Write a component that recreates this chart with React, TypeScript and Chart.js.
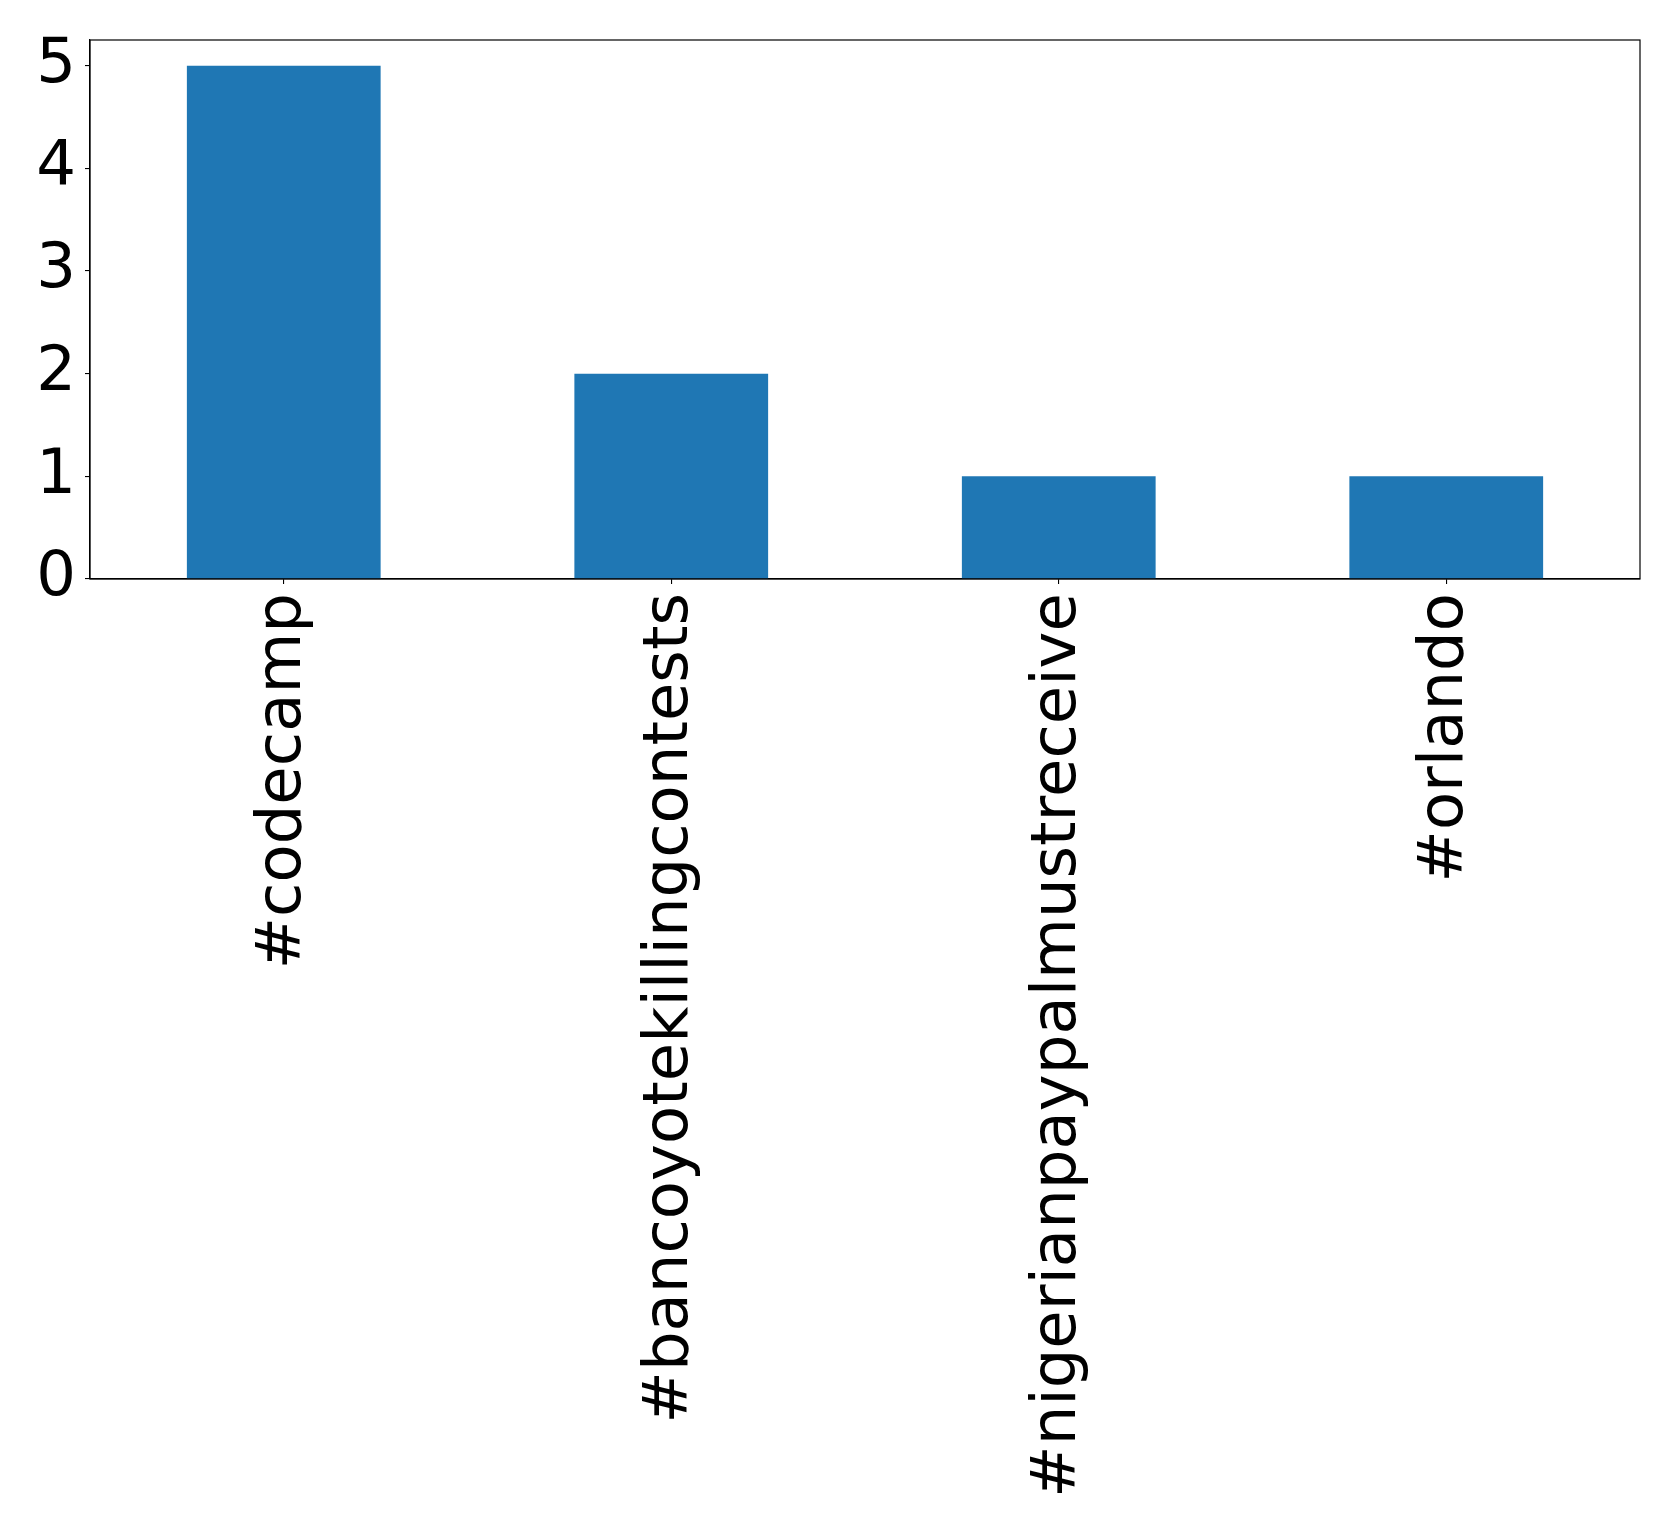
import React, { useEffect, useRef } from 'react';
import { Chart, registerables } from 'chart.js';

Chart.register(...registerables);

// --- data ---
const hashtags = ['#codecamp', '#bancoyotekillingcontests', '#nigerianpaypalmustreceive', '#orlando'];
const counts = [5, 2, 1, 1];
const yTicks = [0, 1, 2, 3, 4, 5];

const W = 1679;
const H = 1533;
const FONT = { family: "'DejaVu Sans', sans-serif", size: 62.5 };

// draws the black frame round the plot area, like matplotlib's spines
const framePlugin = {
  id: 'frame',
  afterDraw(chart: any) {
    const { ctx, chartArea } = chart;
    ctx.save();
    ctx.strokeStyle = '#000';
    ctx.lineWidth = 1.2;
    ctx.strokeRect(chartArea.left, chartArea.top, chartArea.right - chartArea.left, chartArea.bottom - chartArea.top);
    ctx.restore();
  },
};

export default function App() {
  const canvasRef = useRef<HTMLCanvasElement | null>(null);

  useEffect(() => {
    if (!canvasRef.current) return;
    const chart = new Chart(canvasRef.current, {
      type: 'bar',
      data: {
        labels: hashtags,
        datasets: [
          {
            data: counts,
            backgroundColor: '#1f77b4',
            barPercentage: 0.5,
            categoryPercentage: 1,
          },
        ],
      },
      options: {
        animation: false,
        responsive: false,
        devicePixelRatio: 1,
        layout: { padding: { top: 40, right: 39, left: 0, bottom: 0 } },
        plugins: { legend: { display: false }, tooltip: { enabled: false } },
        scales: {
          x: {
            grid: { display: true, drawOnChartArea: false, offset: false, tickLength: 5, color: '#000', lineWidth: 1.1 },
            border: { display: true, color: '#000', width: 1.2 },
            ticks: { color: '#000', font: FONT, minRotation: 90, maxRotation: 90, padding: 9, autoSkip: false },
            afterFit: (scale: any) => {
              scale.height = H - 579;
              scale.paddingLeft = 0;
              scale.paddingRight = 0;
            },
          },
          y: {
            min: 0,
            max: 5.25,
            afterBuildTicks: (scale: any) => {
              scale.ticks = yTicks.map((v) => ({ value: v }));
            },
            grid: { display: true, drawOnChartArea: false, tickLength: 5, color: '#000', lineWidth: 1.1 },
            border: { display: true, color: '#000', width: 1.2 },
            ticks: { color: '#000', font: FONT, padding: 9 },
            afterFit: (scale: any) => {
              scale.width = 90;
              scale.paddingTop = 0;
              scale.paddingBottom = 0;
            },
          },
        },
      },
      plugins: [framePlugin],
    });
    return () => chart.destroy();
  }, []);

  return (
    <div style={{ position: 'absolute', left: 0, top: 0, width: W, height: H, background: '#fff' }}>
      <canvas ref={canvasRef} width={W} height={H} />
    </div>
  );
}
